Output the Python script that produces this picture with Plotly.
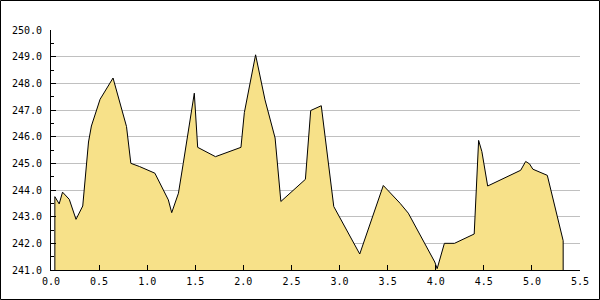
import plotly.graph_objects as go

x_vals = [0.04, 0.085, 0.12, 0.19, 0.26, 0.33, 0.39, 0.42, 0.49, 0.51, 0.645, 0.785, 0.83, 0.92,
          1.08, 1.22, 1.255, 1.325, 1.375, 1.49, 1.525, 1.71, 1.975, 2.01, 2.127, 2.225, 2.33,
          2.39, 2.645, 2.70, 2.81, 2.94, 3.21, 3.455, 3.63, 3.715, 3.99, 4.015, 4.09, 4.195,
          4.40, 4.446, 4.48, 4.54, 4.883, 4.935, 4.975, 5.01, 5.16, 5.325]
y_vals = [243.75, 243.48, 243.92, 243.65, 242.9, 243.4, 245.8, 246.4, 247.25, 247.4, 248.2,
          246.38, 245.0, 244.88, 244.63, 243.63, 243.15, 243.88, 245.0, 247.63, 245.6, 245.25,
          245.6, 246.9, 249.07, 247.38, 245.95, 243.57, 244.4, 246.98, 247.16, 243.38, 241.6,
          244.17, 243.5, 243.13, 241.3, 241.05, 242.0, 242.0, 242.35, 245.86, 245.44, 244.15,
          244.74, 245.07, 244.98, 244.78, 244.55, 242.1]

y_min, y_max = 241.0, 250.0
x_min, x_max = 0.0, 5.5

xs = [x_vals[0]] + x_vals + [x_vals[-1]]
ys = [y_min] + y_vals + [y_min]

fig = go.Figure()
fig.add_trace(go.Scatter(
    x=xs, y=ys, mode="lines", fill="tozeroy",
    fillcolor="rgb(247,225,137)",
    line=dict(color="black", width=1),
    hoverinfo="skip", showlegend=False,
))

L, R, T, B = 51, 20, 30, 30
W, H = 600, 300
pw, ph = W - L - R, H - T - B

font = dict(family="DejaVu Sans Mono", size=10, color="black")

fig.update_layout(
    width=W, height=H,
    margin=dict(l=L, r=R, t=T, b=B, pad=0),
    paper_bgcolor="white", plot_bgcolor="white",
    font=font,
    xaxis=dict(range=[x_min, x_max], dtick=0.5, tick0=0, tickformat=".1f",
               showgrid=False, zeroline=False, showline=True, linecolor="black",
               linewidth=1, ticks="inside", ticklen=5, tickcolor="black",
               tickfont=font, ticklabelstandoff=2),
    yaxis=dict(range=[y_min, y_max], dtick=1, tick0=241, tickformat=".1f",
               showgrid=True, gridcolor="#c0c0c0", gridwidth=1,
               zeroline=False, showline=True, linecolor="black", linewidth=1,
               ticks="inside", ticklen=5, tickcolor="black", tickfont=font,
               ticklabelstandoff=6,
               minor=dict(dtick=0.5, ticks="inside", ticklen=3, tickcolor="black",
                          showgrid=False)),
    shapes=[dict(type="rect", xref="paper", yref="paper",
                 x0=(0.5 - L) / pw, x1=(W - 0.5 - L) / pw,
                 y0=(H - B - (H - 0.5)) / ph, y1=(H - B - 0.5) / ph,
                 line=dict(color="black", width=1), fillcolor="rgba(0,0,0,0)")],
)

fig.write_html("out.html")
